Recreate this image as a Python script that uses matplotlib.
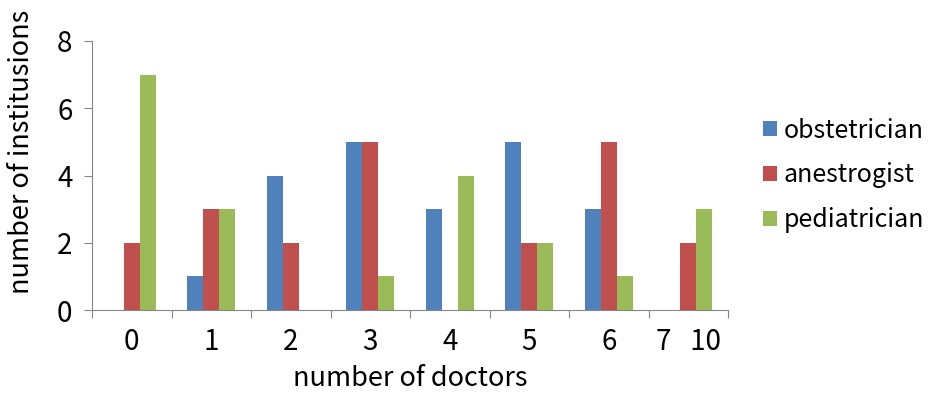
import numpy as np
import matplotlib.pyplot as plt

plt.rcParams['font.family'] = ['Noto Sans CJK JP', 'DejaVu Sans']

# doctors per institution, by specialty
categories = ['0', '1', '2', '3', '4', '5', '6', '7   10']
obstetrician = [0, 1, 4, 5, 3, 5, 3, 0]
anestrogist = [2, 3, 2, 5, 0, 2, 5, 2]
pediatrician = [7, 3, 0, 1, 4, 2, 1, 3]

series = [('obstetrician', obstetrician, '#4F81BD'),
          ('anestrogist', anestrogist, '#C0504D'),
          ('pediatrician', pediatrician, '#9BBB59')]

fig = plt.figure(figsize=(9.35, 4), dpi=100)
ax = fig.add_axes([92 / 935, 1 - 310 / 400, (728 - 92) / 935, (310 - 41) / 400])

x = np.arange(len(categories))
w = 0.2
for i, (name, vals, col) in enumerate(series):
    ax.bar(x + (i - 1) * w, vals, width=w, color=col, label=name)

ax.set_xlim(-0.5, len(categories) - 0.5)
ax.set_ylim(0, 8)
ax.set_yticks([0, 2, 4, 6, 8])

# tick marks on the category boundaries, labels in the middle
ax.set_xticks(np.arange(len(categories) + 1) - 0.5)
ax.set_xticklabels([])
ax.set_xticks(x, minor=True)
ax.set_xticklabels(categories, minor=True)
ax.tick_params(axis='x', which='major', length=6, color='#868686', direction='out')
ax.tick_params(axis='x', which='minor', length=0, pad=12, labelsize=20)
ax.tick_params(axis='y', length=6, color='#868686', direction='out', labelsize=20, pad=8)

for s in ['top', 'right']:
    ax.spines[s].set_visible(False)
for s in ['left', 'bottom']:
    ax.spines[s].set_color('#868686')

ax.set_xlabel('number of doctors', fontsize=19.5, labelpad=6)
fig.text(22 / 935, 1 - 294 / 400, 'number of institusions', rotation=90,
         ha='center', va='bottom', fontsize=19.5)

leg = ax.legend(loc='center left', bbox_to_anchor=(1.04, 0.5), frameon=False,
                fontsize=18, handlelength=0.55, handleheight=0.55,
                handletextpad=0.25, labelspacing=0.75, borderaxespad=0)

fig.savefig('out.png', dpi=100)
